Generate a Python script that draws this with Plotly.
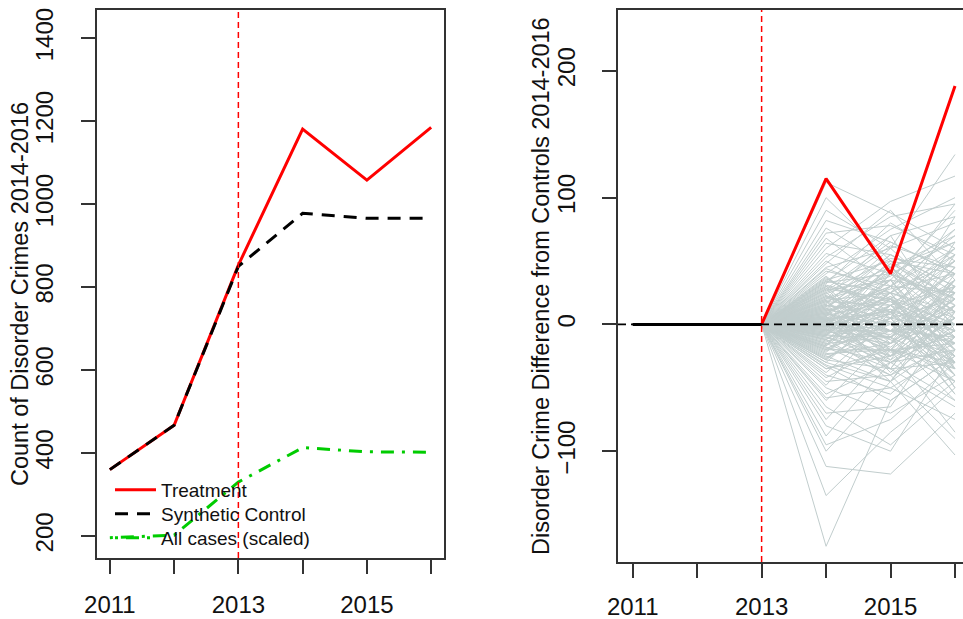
import plotly.graph_objects as go

# ---------------- data ----------------
years = [2011, 2012, 2013, 2014, 2015, 2016]
x_tick_text = ["2011", "", "2013", "", "2015", ""]

treatment = [360, 467, 853, 1181, 1058, 1185]
synthetic = [360, 467, 850, 978, 966, 966]
all_cases_scaled = [196, 202, 330, 413, 403, 402]
left_y_ticks = [200, 400, 600, 800, 1000, 1200, 1400]

treat_diff = [0, 0, 0, 115, 40, 188]
right_y_ticks = [-100, 0, 100, 200]

# placebo (control) differences; 2011-2013 are zero for all controls
placebo_2014 = [-175, -135, -112, -100, -95, -88, -80, -75, -70, -65, -60, -58, -55, -50, -48,
                -45, -42, -40, -38, -35, -33, -30, -28, -26, -25, -22, -20, -19, -18, -16,
                -15, -14, -12, -11, -10, -9, -8, -7, -6, -5, -4, -3, -2, -1, 0,
                1, 2, 3, 4, 5, 6, 7, 8, 9, 10, 11, 12, 13, 14, 15,
                16, 18, 19, 20, 22, 24, 25, 27, 28, 30, 32, 34, 35, 38, 40,
                42, 45, 48, 50, 53, 56, 60, 64, 68, 72, 76, 82, 90, 112, 100,
                -35, -30, -28, -24, -21, -18, -17, -13, -12, -10, -8, -6, -5, -4, -3,
                -2, -1, 0, 1, 2, 3, 4, 5, 6, 7, 8, 9, 10, 12, 14,
                16, 18, 20, 22, 25, 28, 30, 33, 36, 44,
                -27, -23, -20, -15, -12, -9, -7, -4, -2, 0, 2, 4, 6, 9, 11,
                13, 15, 17, 19, 21, 23, 26, 29, 31, 34, 37, -32, -17, 5, -9]
placebo_2015 = [-60, -85, -118, -45, -75, -30, -100, -20, -65, -95, -10, -50, -30, -70, 10,
                -40, -15, -55, 5, -25, -60, 15, -35, -5, -45, 20, -20, 0, -30, 25,
                -10, 10, -40, 5, -25, 30, -15, 0, 40, -5, 15, -35, 20, -20, 35,
                -10, 45, -30, 10, 25, -15, 50, 0, 30, -25, 20, 55, -5, 40, 5,
                60, -20, 25, 70, 10, 45, -10, 35, 65, 15, 80, 25, 50, 0, 75,
                30, 60, 90, 20, 85, 40, 97, 55, 30, 78, 45, 65, 60, 88, 50,
                -20, -45, 10, -15, 5, -40, 20, -5, 15, -30, 25, -10, 8, -25, 30,
                -8, 12, -18, 22, -5, 35, -22, 8, -35, 18, 42, -12, 28, 2, 48,
                -28, 15, 35, -5, 52, 20, -15, 40, 10, 25,
                5, -20, 15, -35, 25, -10, 35, -28, 12, -45, 22, -15, 45, -5, 30,
                -38, 10, 55, -20, 38, 0, 62, -25, 18, 70, 5, -50, 40, -12, 48]
placebo_2016 = [-25, -45, -70, -103, -30, -60, -20, -85, 10, -50, -35, -75, 5, -40, -15,
                -90, 20, -10, -55, -5, -25, 30, -65, 0, 15, -30, -45, 25, -20, 10,
                -60, 40, -15, -5, 35, -25, 5, -40, 20, -10, 50, -30, 0, 15, -20,
                30, 10, -5, 60, -35, 20, 40, -15, 70, 5, -50, 25, 45, -10, 85,
                15, 35, 55, -5, 30, 65, 20, 90, 40, -25, 50, 75, 10, 45, 100,
                25, 80, 35, 60, 95, 15, 117, 30, 95, 55, 70, 40, 134, 60, 20,
                -30, -10, -35, 25, -45, 0, -20, 10, -30, -5, 5, 45, -25, 15, -15,
                35, -40, 20, 0, -30, 25, -10, 50, 30, -20, 10, -45, 40, -15, 20,
                5, 55, -30, 25, 45, -10, 35, 65, 0, 50,
                20, -35, -5, 30, -50, 15, -20, 40, -10, 25, -40, 55, 5, -25, 60,
                10, -55, 30, -15, 75, -30, 45, 15, -5, 85, 35, -20, 0, 65, -35]

# ---------------- layout helpers ----------------
W, H = 963, 619
FONT = "Liberation Sans, Arial, sans-serif"
AX = "#333333"


def px_x(p):
    return p / W


def px_y(p):
    return 1 - p / H


fig = go.Figure()

# ---------- left panel ----------
fig.add_trace(go.Scatter(x=years, y=treatment, mode="lines", name="Treatment",
                         line=dict(color="#ff0000", width=3), xaxis="x", yaxis="y",
                         legend="legend"))
fig.add_trace(go.Scatter(x=years, y=synthetic, mode="lines", name="Synthetic Control",
                         line=dict(color="#000000", width=3, dash="13px,9px"),
                         xaxis="x", yaxis="y", legend="legend2"))
fig.add_trace(go.Scatter(x=years, y=all_cases_scaled, mode="lines", name="All cases (scaled)",
                         line=dict(color="#00cc00", width=3, dash="3px,8px,13px,8px"),
                         xaxis="x", yaxis="y", legend="legend3"))

# ---------- right panel ----------
px_list, py_list = [], []
for a, b, c in zip(placebo_2014, placebo_2015, placebo_2016):
    px_list += years + [None]
    py_list += [0, 0, 0, a, b, c, None]
fig.add_trace(go.Scatter(x=px_list, y=py_list, mode="lines", showlegend=False,
                         line=dict(color="#C1CDCD", width=1), xaxis="x2", yaxis="y2",
                         hoverinfo="skip"))
fig.add_trace(go.Scatter(x=years[2:], y=treat_diff[2:], mode="lines", showlegend=False,
                         line=dict(color="#ff0000", width=3), xaxis="x2", yaxis="y2"))
fig.add_trace(go.Scatter(x=years[:3], y=treat_diff[:3], mode="lines", showlegend=False,
                         line=dict(color="#000000", width=3), xaxis="x2", yaxis="y2"))

axis_common = dict(showline=True, linecolor=AX, linewidth=2, ticks="outside", ticklen=14,
                   tickwidth=2, tickcolor=AX, showgrid=False, zeroline=False,
                   tickfont=dict(family=FONT, size=24, color="#111111"), automargin=False)

legend_common = dict(xanchor="left", yanchor="middle", bgcolor="rgba(0,0,0,0)",
                     font=dict(family=FONT, size=19, color="#111111"), itemwidth=41,
                     borderwidth=0)

fig.update_layout(
    width=W, height=H,
    margin=dict(l=0, r=0, t=0, b=0),
    paper_bgcolor="white", plot_bgcolor="white",
    font=dict(family=FONT, color="#111111"),
    xaxis=dict(domain=[px_x(97), px_x(444)], range=[2010.8, 2016.2], tickvals=years,
               ticktext=x_tick_text, mirror=True, anchor="y", ticklabelstandoff=10,
               **axis_common),
    yaxis=dict(domain=[px_y(558), px_y(10)], range=[147, 1468], tickvals=left_y_ticks,
               tickangle=-90, mirror=True, anchor="x", ticklabelstandoff=18, **axis_common),
    xaxis2=dict(domain=[px_x(618), 1.0], range=[2010.772, 2016.124], tickvals=years,
                ticktext=x_tick_text, mirror=True, anchor="y2", ticklabelstandoff=8,
                **axis_common),
    yaxis2=dict(domain=[px_y(562), px_y(10)], range=[-187.4, 248], tickvals=right_y_ticks,
                tickangle=-90, anchor="x2", ticklabelstandoff=17, **axis_common),
    legend=dict(x=px_x(110), y=px_y(490), **legend_common),
    legend2=dict(x=px_x(110), y=px_y(514), **legend_common),
    legend3=dict(x=px_x(110), y=px_y(538), **legend_common),
    showlegend=True,
)

# reference lines
fig.add_shape(type="line", xref="x", yref="y domain", x0=2013, x1=2013, y0=0, y1=1,
              line=dict(color="#ff0000", width=1.5, dash="6px,4px"), layer="above")
fig.add_shape(type="line", xref="x2", yref="y2 domain", x0=2013, x1=2013, y0=0, y1=1,
              line=dict(color="#ff0000", width=1.5, dash="6px,4px"), layer="above")
fig.add_shape(type="line", xref="x2 domain", yref="y2", x0=0, x1=1, y0=0, y1=0,
              line=dict(color="#000000", width=1.8, dash="8px,5px"), layer="above")

# axis titles
fig.add_annotation(text="Count of Disorder Crimes 2014-2016", textangle=-90,
                   xref="paper", yref="paper", x=px_x(20), y=px_y(294),
                   xanchor="center", yanchor="middle", showarrow=False,
                   font=dict(family=FONT, size=23.5, color="#111111"))
fig.add_annotation(text="Disorder Crime Difference from Controls 2014-2016", textangle=-90,
                   xref="paper", yref="paper", x=px_x(541), y=px_y(286),
                   xanchor="center", yanchor="middle", showarrow=False,
                   font=dict(family=FONT, size=23.5, color="#111111"))

fig.write_html("out.html", config={"displayModeBar": False},
               post_script="document.body.style.margin='0px';document.body.style.overflow='hidden';")
